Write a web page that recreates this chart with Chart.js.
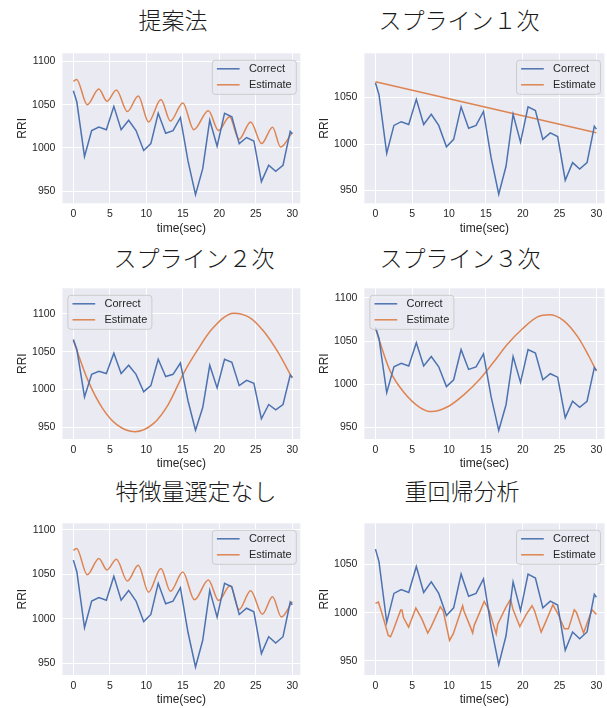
<!DOCTYPE html>
<html>
<head>
<meta charset="utf-8">
<script src="https://cdn.jsdelivr.net/npm/chart.js@4.4.0/dist/chart.umd.min.js"></script>
<style>
  html, body { margin: 0; padding: 0; background: #ffffff; }
  body { width: 607px; height: 708px; position: relative; overflow: hidden; }
  canvas.panel { position: absolute; }
  .ttl {
    position: absolute; transform: translate(-50%, -50%);
    font-family: "Noto Sans CJK JP", sans-serif; font-weight: 300;
    font-size: 23px; line-height: 1; color: #1a1a1a; white-space: nowrap;
  }
</style>
</head>
<body>
<div class="ttl" style="left:173px; top:19px;">提案法</div>
<div class="ttl" style="left:459px; top:19px;">スプライン１次</div>
<div class="ttl" style="left:194px; top:257px;">スプライン２次</div>
<div class="ttl" style="left:460px; top:257px;">スプライン３次</div>
<div class="ttl" style="left:196px; top:490px;">特徴量選定なし</div>
<div class="ttl" style="left:462px; top:490px;">重回帰分析</div>

<canvas class="panel" id="p1" width="303" height="197" style="left:0px; top:40px;"></canvas>
<canvas class="panel" id="p2" width="304" height="197" style="left:303px; top:40px;"></canvas>
<canvas class="panel" id="p3" width="303" height="197" style="left:0px; top:275px;"></canvas>
<canvas class="panel" id="p4" width="304" height="197" style="left:303px; top:275px;"></canvas>
<canvas class="panel" id="p5" width="303" height="198" style="left:0px; top:510px;"></canvas>
<canvas class="panel" id="p6" width="304" height="198" style="left:303px; top:510px;"></canvas>

<script>
// Measured RR intervals (ms) against elapsed time (s)
const timeSec = [0, 0.48, 1.53, 2.51, 3.5, 4.52, 5.55, 6.55, 7.58, 8.59,
  9.64, 10.62, 11.63, 12.65, 13.66, 14.67, 15.71, 16.74, 17.73, 18.69,
  19.7, 20.72, 21.72, 22.73, 23.74, 24.74, 25.77, 26.77, 27.73, 28.73, 29.72, 30];
const correctRRI = [1066, 1053, 990, 1020, 1024, 1021, 1048, 1021, 1032, 1020,
  997, 1005, 1040, 1017, 1020, 1035, 985, 946, 976, 1032,
  1002, 1040, 1036, 1005, 1012, 1008, 961, 980, 973, 980, 1019, 1016];

// Estimated RRI per method
const proposedT = [0, 0.45, 1.9, 3.5, 4.6, 5.9, 7.4, 8.9, 10.3, 12.0, 13.3, 15.0, 16.5, 18.5, 19.9, 21.4, 22.7, 24.3, 25.8, 27.3, 28.4, 30];
const proposedRRI = [1077, 1079, 1050, 1068, 1054, 1067, 1042, 1060, 1030, 1056, 1031, 1052, 1021, 1043, 1020, 1036, 1010, 1030, 1005, 1024, 1001, 1018];

const spline1T = [0, 30];
const spline1RRI = [1067, 1012];

const spline2T = [0, 2, 4, 6, 8.45, 11, 13, 15.2, 17, 19, 22, 24, 26, 28, 30];
const spline2RRI = [1065, 1012, 975, 953, 944, 955, 980, 1023, 1052, 1080, 1101, 1096, 1078, 1050, 1015];

const spline3T = [0, 2, 4, 6, 7.6, 10, 12, 14, 16, 18, 20, 22, 23.6, 25.5, 27.5, 29, 30];
const spline3RRI = [1064.5, 1015, 989, 973, 968, 974.5, 987.5, 1004, 1025, 1047, 1064.5, 1078, 1080.5, 1074, 1054.5, 1032, 1015];

const noSelectT = [0, 0.45, 1.9, 3.5, 4.6, 5.9, 7.4, 8.9, 10.3, 12.0, 13.3, 15.0, 16.6, 18.5, 19.9, 21.5, 22.7, 24.3, 25.9, 27.3, 28.5, 30];
const noSelectRRI = [1077, 1079, 1049.6, 1068, 1055, 1067, 1042.6, 1060.4, 1030, 1056.7, 1031, 1052.6, 1021.5, 1043.7, 1020.7, 1037.4, 1010.4, 1031.5, 1005.2, 1024.8, 1002.2, 1019.6];

const regressionT = [0, 0.4, 0.7, 1.05, 1.74, 2.05, 2.4, 3.43, 3.6, 3.8, 4.5, 5.49, 6.3, 7.1, 7.54, 8.8, 9.2, 10.06, 10.56, 11.84, 12.0, 12.9, 13.2, 13.4, 14.77, 15.45, 16.4, 16.6, 17.7, 18.34, 18.66, 19.6, 20.5, 21.26, 21.6, 22.5, 23.0, 24.1, 24.8, 25.65, 26.2, 27.0, 27.3, 28.26, 29.4, 30];
const regressionRRI = [1009.6, 1011, 1003.8, 995, 976.4, 975, 981.5, 1002.7, 1002.7, 995, 985, 1004.8, 993.5, 978.8, 985, 1006.2, 1002, 971.2, 978, 1007.2, 1002, 985, 978.8, 986.6, 1011.6, 1002, 978, 988, 1005.5, 1014, 1003.8, 985.6, 998.6, 1007.2, 1002, 979.8, 988.4, 1008.2, 998.6, 983.2, 983.2, 1003, 1000.3, 978.8, 1003, 998];

const xTickValues = [0, 5, 10, 15, 20, 25, 30];
const yTickValues = [950, 1000, 1050, 1100];
const seriesNames = ['Correct', 'Estimate'];

const BLUE = '#4C72B0';
const ORANGE = '#DD8452';
const INK = '#262626';
const FAMILY = '"Liberation Sans", Arial, sans-serif';

// Seaborn-style panel background
const panelBg = {
  id: 'panelBg',
  beforeDraw(chart) {
    const { ctx, chartArea: a } = chart;
    ctx.save();
    ctx.fillStyle = '#EAEAF2';
    ctx.fillRect(a.left, a.top, a.right - a.left, a.bottom - a.top);
    ctx.restore();
  }
};

// Legend box drawn inside the plot area
const innerLegend = {
  id: 'innerLegend',
  afterDatasetsDraw(chart, args, opts) {
    const { ctx, chartArea: a } = chart;
    const w = 84, h = 34, r = 3;
    const x = opts.corner === 'left' ? a.left + 5.5 : a.right - 4 - w;
    const y = a.top + 7;
    ctx.save();
    ctx.beginPath();
    ctx.moveTo(x + r, y);
    ctx.arcTo(x + w, y, x + w, y + h, r);
    ctx.arcTo(x + w, y + h, x, y + h, r);
    ctx.arcTo(x, y + h, x, y, r);
    ctx.arcTo(x, y, x + w, y, r);
    ctx.closePath();
    ctx.fillStyle = 'rgba(234,234,242,0.8)';
    ctx.fill();
    ctx.strokeStyle = '#CCCCCC';
    ctx.lineWidth = 1;
    ctx.stroke();
    ctx.font = '11px ' + FAMILY;
    ctx.textBaseline = 'middle';
    ctx.textAlign = 'left';
    chart.data.datasets.forEach((ds, i) => {
      const cy = y + 8.5 + i * 16;
      ctx.beginPath();
      ctx.moveTo(x + 4.6, cy);
      ctx.lineTo(x + 27.3, cy);
      ctx.strokeStyle = ds.borderColor;
      ctx.lineWidth = 1.5;
      ctx.stroke();
      ctx.fillStyle = INK;
      ctx.fillText(ds.label, x + 36.6, cy + 0.5);
    });
    ctx.restore();
  }
};

function toPoints(xs, ys) { return xs.map((t, i) => ({ x: t, y: ys[i] })); }

function makePanel(id, p) {
  const leftCol = p.col === 0;
  return new Chart(document.getElementById(id), {
    type: 'line',
    data: {
      datasets: [
        { label: seriesNames[0], data: toPoints(timeSec, correctRRI), borderColor: BLUE,
          borderWidth: 1.5, pointRadius: 0, tension: 0, fill: false },
        { label: seriesNames[1], data: toPoints(p.estT, p.estV), borderColor: ORANGE,
          borderWidth: 1.5, pointRadius: 0, tension: 0, fill: false,
          cubicInterpolationMode: p.smooth ? 'monotone' : 'default' }
      ]
    },
    options: {
      responsive: false, animation: false, devicePixelRatio: 1,
      layout: { padding: { left: 0, top: p.padTop, right: leftCol ? 2.7 : 2, bottom: 0 } },
      plugins: { legend: { display: false }, tooltip: { enabled: false },
                 innerLegend: { corner: p.legend } },
      scales: {
        x: {
          type: 'linear', min: -1.5, max: 31.1,
          afterBuildTicks: s => { s.ticks = xTickValues.map(v => ({ value: v })); },
          afterFit: s => { s.height = p.xAxisH; },
          grid: { color: '#ffffff', lineWidth: 1, drawTicks: false },
          border: { display: false },
          ticks: { color: INK, font: { size: 10.5, family: FAMILY }, padding: 4.7, maxRotation: 0,
                   callback: v => String(v) },
          title: { display: true, text: 'time(sec)', color: INK,
                   font: { size: 12, family: FAMILY }, padding: { top: 0, bottom: p.xTitlePad } }
        },
        y: {
          type: 'linear', min: p.yMin, max: p.yMax,
          afterBuildTicks: s => { s.ticks = yTickValues.filter(v => v >= p.yMin && v <= p.yMax).map(v => ({ value: v })); },
          afterFit: s => { s.width = leftCol ? 62.4 : 61.4; },
          grid: { color: '#ffffff', lineWidth: 1, drawTicks: false },
          border: { display: false },
          ticks: { color: INK, font: { size: 10.5, family: FAMILY }, padding: 7,
                   callback: v => String(v) },
          title: { display: true, text: 'RRI', color: INK,
                   font: { size: 12, family: FAMILY }, padding: { top: leftCol ? 15 : 14, bottom: 0 } }
        }
      }
    },
    plugins: [panelBg, innerLegend]
  });
}

makePanel('p1', { col: 0, padTop: 7.3, xAxisH: 33.7, xTitlePad: 1.5, yMin: 936, yMax: 1109.3,
  estT: proposedT, estV: proposedRRI, smooth: true, legend: 'right' });
makePanel('p2', { col: 1, padTop: 7.3, xAxisH: 33.7, xTitlePad: 1.5, yMin: 936.2, yMax: 1097.6,
  estT: spline1T, estV: spline1RRI, smooth: false, legend: 'right' });
makePanel('p3', { col: 0, padTop: 7.3, xAxisH: 33, xTitlePad: 1.5, yMin: 934.3, yMax: 1134,
  estT: spline2T, estV: spline2RRI, smooth: true, legend: 'left' });
makePanel('p4', { col: 1, padTop: 7.3, xAxisH: 33, xTitlePad: 1.5, yMin: 936.2, yMax: 1111.2,
  estT: spline3T, estV: spline3RRI, smooth: true, legend: 'left' });
makePanel('p5', { col: 0, padTop: 11.7, xAxisH: 33, xTitlePad: 0.8, yMin: 937, yMax: 1107.4,
  estT: noSelectT, estV: noSelectRRI, smooth: true, legend: 'right' });
makePanel('p6', { col: 1, padTop: 11.7, xAxisH: 33, xTitlePad: 0.8, yMin: 935.3, yMax: 1092.8,
  estT: regressionT, estV: regressionRRI, smooth: false, legend: 'right' });
</script>
</body>
</html>
